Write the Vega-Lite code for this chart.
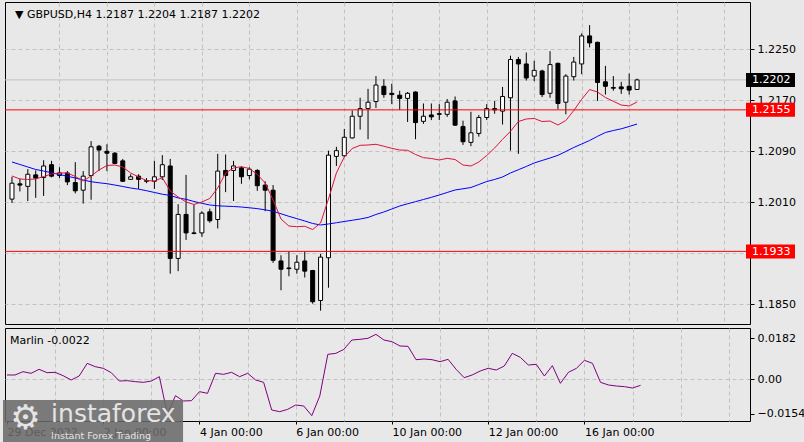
{
"$schema": "https://vega.github.io/schema/vega-lite/v6.json",
"background": "#e8e8e8",
"padding": {"left": 2, "top": 1, "right": 0, "bottom": 0},
"spacing": 2,
"config": {
  "view": {"fill": "#e8e8e8", "stroke": "#000000", "strokeWidth": 1},
  "font": "DejaVu Sans",
  "axis": {"labelFont": "DejaVu Sans", "labelFontSize": 11, "labelColor": "#000000", "domain": false, "tickColor": "#000000", "gridColor": "#c2c2c2", "gridDash": [4, 3], "gridWidth": 1, "title": null, "labelOverlap": false, "labelBound": false, "labelFlush": false}
},
"datasets": {
  "candles": [
    {"i":0,"o":1.2015,"h":1.2050,"l":1.2009,"c":1.2040},
    {"i":1,"o":1.2039,"h":1.2047,"l":1.2027,"c":1.2037},
    {"i":2,"o":1.2035,"h":1.2062,"l":1.2012,"c":1.2054},
    {"i":3,"o":1.2053,"h":1.2060,"l":1.2017,"c":1.2048},
    {"i":4,"o":1.2049,"h":1.2076,"l":1.2020,"c":1.2067},
    {"i":5,"o":1.2069,"h":1.2075,"l":1.2049,"c":1.2051},
    {"i":6,"o":1.2052,"h":1.2065,"l":1.2048,"c":1.2056},
    {"i":7,"o":1.2056,"h":1.2059,"l":1.2037,"c":1.2042},
    {"i":8,"o":1.2041,"h":1.2073,"l":1.2024,"c":1.2028},
    {"i":9,"o":1.2029,"h":1.2059,"l":1.2008,"c":1.2051},
    {"i":10,"o":1.2052,"h":1.2106,"l":1.2014,"c":1.2097},
    {"i":11,"o":1.2098,"h":1.2100,"l":1.2059,"c":1.2092},
    {"i":12,"o":1.2090,"h":1.2101,"l":1.2059,"c":1.2087},
    {"i":13,"o":1.2087,"h":1.2089,"l":1.2070,"c":1.2071},
    {"i":14,"o":1.2075,"h":1.2078,"l":1.2042,"c":1.2043},
    {"i":15,"o":1.2046,"h":1.2054,"l":1.2045,"c":1.2050},
    {"i":16,"o":1.2051,"h":1.2054,"l":1.2031,"c":1.2046},
    {"i":17,"o":1.2044,"h":1.2048,"l":1.2040,"c":1.2043},
    {"i":18,"o":1.2043,"h":1.2075,"l":1.2031,"c":1.2050},
    {"i":19,"o":1.2050,"h":1.2084,"l":1.2045,"c":1.2069},
    {"i":20,"o":1.2067,"h":1.2078,"l":1.1898,"c":1.1922},
    {"i":21,"o":1.1922,"h":1.2007,"l":1.1902,"c":1.1991},
    {"i":22,"o":1.1991,"h":1.2053,"l":1.1951,"c":1.1962},
    {"i":23,"o":1.1962,"h":1.2006,"l":1.1960,"c":1.1961},
    {"i":24,"o":1.1962,"h":1.1996,"l":1.1956,"c":1.1993},
    {"i":25,"o":1.1995,"h":1.2000,"l":1.1978,"c":1.1981},
    {"i":26,"o":1.1983,"h":1.2086,"l":1.1969,"c":1.2059},
    {"i":27,"o":1.2060,"h":1.2085,"l":1.2026,"c":1.2052},
    {"i":28,"o":1.2060,"h":1.2075,"l":1.2012,"c":1.2067},
    {"i":29,"o":1.2064,"h":1.2066,"l":1.2039,"c":1.2050},
    {"i":30,"o":1.2052,"h":1.2065,"l":1.2046,"c":1.2062},
    {"i":31,"o":1.2060,"h":1.2062,"l":1.2028,"c":1.2036},
    {"i":32,"o":1.2037,"h":1.2043,"l":1.1996,"c":1.2029},
    {"i":33,"o":1.2029,"h":1.2037,"l":1.1915,"c":1.1919},
    {"i":34,"o":1.1918,"h":1.1927,"l":1.1872,"c":1.1905},
    {"i":35,"o":1.1907,"h":1.1933,"l":1.1894,"c":1.1906},
    {"i":36,"o":1.1905,"h":1.1927,"l":1.1898,"c":1.1916},
    {"i":37,"o":1.1918,"h":1.1933,"l":1.1892,"c":1.1902},
    {"i":38,"o":1.1903,"h":1.1904,"l":1.1851,"c":1.1854},
    {"i":39,"o":1.1856,"h":1.1929,"l":1.1840,"c":1.1924},
    {"i":40,"o":1.1923,"h":1.2091,"l":1.1876,"c":1.2084},
    {"i":41,"o":1.2082,"h":1.2097,"l":1.2067,"c":1.2091},
    {"i":42,"o":1.2083,"h":1.2125,"l":1.2081,"c":1.2112},
    {"i":43,"o":1.2111,"h":1.2154,"l":1.2110,"c":1.2145},
    {"i":44,"o":1.2145,"h":1.2174,"l":1.2124,"c":1.2157},
    {"i":45,"o":1.2157,"h":1.2188,"l":1.2109,"c":1.2167},
    {"i":46,"o":1.2168,"h":1.2208,"l":1.2158,"c":1.2194},
    {"i":47,"o":1.2192,"h":1.2203,"l":1.2174,"c":1.2179},
    {"i":48,"o":1.2181,"h":1.2196,"l":1.2164,"c":1.2179},
    {"i":49,"o":1.2178,"h":1.2185,"l":1.2155,"c":1.2173},
    {"i":50,"o":1.2173,"h":1.2183,"l":1.2136,"c":1.2181},
    {"i":51,"o":1.2183,"h":1.2184,"l":1.2109,"c":1.2135},
    {"i":52,"o":1.2137,"h":1.2165,"l":1.2133,"c":1.2145},
    {"i":53,"o":1.2147,"h":1.2165,"l":1.2139,"c":1.2144},
    {"i":54,"o":1.2149,"h":1.2164,"l":1.2139,"c":1.2148},
    {"i":55,"o":1.2148,"h":1.2172,"l":1.2144,"c":1.2167},
    {"i":56,"o":1.2169,"h":1.2176,"l":1.2130,"c":1.2131},
    {"i":57,"o":1.2129,"h":1.2138,"l":1.2100,"c":1.2105},
    {"i":58,"o":1.2104,"h":1.2152,"l":1.2098,"c":1.2119},
    {"i":59,"o":1.2118,"h":1.2147,"l":1.2113,"c":1.2143},
    {"i":60,"o":1.2143,"h":1.2164,"l":1.2139,"c":1.2157},
    {"i":61,"o":1.2157,"h":1.2169,"l":1.2149,"c":1.2155},
    {"i":62,"o":1.2153,"h":1.2191,"l":1.2132,"c":1.2176},
    {"i":63,"o":1.2174,"h":1.2240,"l":1.2091,"c":1.2234},
    {"i":64,"o":1.2234,"h":1.2238,"l":1.2086,"c":1.2227},
    {"i":65,"o":1.2227,"h":1.2245,"l":1.2201,"c":1.2205},
    {"i":66,"o":1.2208,"h":1.2232,"l":1.2200,"c":1.2217},
    {"i":67,"o":1.2216,"h":1.2218,"l":1.2175,"c":1.2179},
    {"i":68,"o":1.2181,"h":1.2247,"l":1.2174,"c":1.2226},
    {"i":69,"o":1.2228,"h":1.2229,"l":1.2156,"c":1.2165},
    {"i":70,"o":1.2167,"h":1.2211,"l":1.2148,"c":1.2208},
    {"i":71,"o":1.2207,"h":1.2238,"l":1.2201,"c":1.2230},
    {"i":72,"o":1.2227,"h":1.2275,"l":1.2211,"c":1.2271},
    {"i":73,"o":1.2271,"h":1.2288,"l":1.2253,"c":1.2260},
    {"i":74,"o":1.2261,"h":1.2262,"l":1.2169,"c":1.2198},
    {"i":75,"o":1.2199,"h":1.2224,"l":1.2179,"c":1.2192},
    {"i":76,"o":1.2190,"h":1.2208,"l":1.2185,"c":1.2189},
    {"i":77,"o":1.2191,"h":1.2199,"l":1.2180,"c":1.2188},
    {"i":78,"o":1.2192,"h":1.2212,"l":1.2179,"c":1.2186},
    {"i":79,"o":1.2187,"h":1.2204,"l":1.2187,"c":1.2202}
  ],
  "ma": [
    {"i":0,"red":1.20513,"blue":1.20732},{"i":1,"red":1.20466,"blue":1.20693},{"i":2,"red":1.20458,"blue":1.20654},{"i":3,"red":1.20466,"blue":1.20615},
    {"i":4,"red":1.20505,"blue":1.20591},{"i":5,"red":1.20544,"blue":1.20564},{"i":6,"red":1.2056,"blue":1.20536},{"i":7,"red":1.2056,"blue":1.20509},
    {"i":8,"red":1.20505,"blue":1.20481},{"i":9,"red":1.20434,"blue":1.2045},{"i":10,"red":1.20513,"blue":1.20423},{"i":11,"red":1.20607,"blue":1.20406},
    {"i":12,"red":1.20677,"blue":1.20392},{"i":13,"red":1.20685,"blue":1.20371},{"i":14,"red":1.20654,"blue":1.20348},{"i":15,"red":1.2056,"blue":1.20324},
    {"i":16,"red":1.20497,"blue":1.20306},{"i":17,"red":1.20442,"blue":1.20282},{"i":18,"red":1.20434,"blue":1.20254},{"i":19,"red":1.20486,"blue":1.20227},
    {"i":20,"red":1.20277,"blue":1.20207},{"i":21,"red":1.20183,"blue":1.20168},{"i":22,"red":1.20105,"blue":1.20147},{"i":23,"red":1.20066,"blue":1.20113},
    {"i":24,"red":1.20105,"blue":1.20084},{"i":25,"red":1.2016,"blue":1.20058},{"i":26,"red":1.20324,"blue":1.20045},{"i":27,"red":1.2056,"blue":1.20039},
    {"i":28,"red":1.20638,"blue":1.20034},{"i":29,"red":1.20659,"blue":1.20026},{"i":30,"red":1.2063,"blue":1.20014},{"i":31,"red":1.20536,"blue":1.20001},
    {"i":32,"red":1.20403,"blue":1.19982},{"i":33,"red":1.20136,"blue":1.19959},{"i":34,"red":1.19838,"blue":1.1992},{"i":35,"red":1.19728,"blue":1.1988},
    {"i":36,"red":1.19717,"blue":1.19844},{"i":37,"red":1.19724,"blue":1.19807},{"i":38,"red":1.19673,"blue":1.19768},{"i":39,"red":1.19775,"blue":1.19744},
    {"i":40,"red":1.20152,"blue":1.1976},{"i":41,"red":1.2056,"blue":1.19779},{"i":42,"red":1.20811,"blue":1.19799},{"i":43,"red":1.20944,"blue":1.19818},
    {"i":44,"red":1.20994,"blue":1.19838},{"i":45,"red":1.20999,"blue":1.19862},{"i":46,"red":1.2101,"blue":1.19909},{"i":47,"red":1.20979,"blue":1.19948},
    {"i":48,"red":1.20947,"blue":1.19995},{"i":49,"red":1.2092,"blue":1.20042},{"i":50,"red":1.20916,"blue":1.20077},{"i":51,"red":1.2085,"blue":1.2011},
    {"i":52,"red":1.208,"blue":1.20144},{"i":53,"red":1.20787,"blue":1.20178},{"i":54,"red":1.20764,"blue":1.20215},{"i":55,"red":1.2079,"blue":1.20254},
    {"i":56,"red":1.20771,"blue":1.20293},{"i":57,"red":1.20685,"blue":1.20312},{"i":58,"red":1.20669,"blue":1.20332},{"i":59,"red":1.20732,"blue":1.20379},
    {"i":60,"red":1.20834,"blue":1.20426},{"i":61,"red":1.20952,"blue":1.20458},{"i":62,"red":1.21088,"blue":1.20497},{"i":63,"red":1.21214,"blue":1.2056},
    {"i":64,"red":1.21367,"blue":1.20611},{"i":65,"red":1.21407,"blue":1.20662},{"i":66,"red":1.21415,"blue":1.20717},{"i":67,"red":1.21367,"blue":1.20756},
    {"i":68,"red":1.21375,"blue":1.20795},{"i":69,"red":1.21313,"blue":1.20837},{"i":70,"red":1.21383,"blue":1.20897},{"i":71,"red":1.2154,"blue":1.2096},
    {"i":72,"red":1.21716,"blue":1.21015},{"i":73,"red":1.21869,"blue":1.21069},{"i":74,"red":1.2183,"blue":1.21135},{"i":75,"red":1.21744,"blue":1.21195},
    {"i":76,"red":1.21684,"blue":1.21226},{"i":77,"red":1.21626,"blue":1.21253},{"i":78,"red":1.21611,"blue":1.21289},{"i":79,"red":1.21673,"blue":1.21328}
  ],
  "marlin": [
    {"i":0,"v":0.00178},{"i":1,"v":0.00178},{"i":2,"v":0.00325},{"i":3,"v":0.00252},{"i":4,"v":0.00429},{"i":5,"v":0.00281},
    {"i":6,"v":0.00296},{"i":7,"v":0.00148},{"i":8,"v":-0.00044},{"i":9,"v":0.00133},{"i":10,"v":0.00695},{"i":11,"v":0.00547},
    {"i":12,"v":0.00474},{"i":13,"v":0.00281},{"i":14,"v":-0.00089},{"i":15,"v":-0.00074},{"i":16,"v":-0.00118},{"i":17,"v":-0.00148},
    {"i":18,"v":-0.00089},{"i":19,"v":0.00103},{"i":20,"v":-0.01568},{"i":21,"v":-0.0074},{"i":22,"v":-0.00976},{"i":23,"v":-0.00962},
    {"i":24,"v":-0.00562},{"i":25,"v":-0.00636},{"i":26,"v":0.00252},{"i":27,"v":0.00207},{"i":28,"v":0.00296},{"i":29,"v":0.00103},
    {"i":30,"v":0.00252},{"i":31,"v":-0.00044},{"i":32,"v":-0.00148},{"i":33,"v":-0.01376},{"i":34,"v":-0.0145},{"i":35,"v":-0.01346},
    {"i":36,"v":-0.01154},{"i":37,"v":-0.01198},{"i":38,"v":-0.01628},{"i":39,"v":-0.00755},{"i":40,"v":0.01095},{"i":41,"v":0.01139},
    {"i":42,"v":0.01317},{"i":43,"v":0.01731},{"i":44,"v":0.01761},{"i":45,"v":0.01805},{"i":46,"v":0.01983},{"i":47,"v":0.01731},
    {"i":48,"v":0.01657},{"i":49,"v":0.01465},{"i":50,"v":0.0145},{"i":51,"v":0.00858},{"i":52,"v":0.00888},{"i":53,"v":0.00858},
    {"i":54,"v":0.00769},{"i":55,"v":0.00873},{"i":56,"v":0.00429},{"i":57,"v":0.00059},{"i":58,"v":0.00178},{"i":59,"v":0.00355},
    {"i":60,"v":0.00474},{"i":61,"v":0.004},{"i":62,"v":0.00577},{"i":63,"v":0.01139},{"i":64,"v":0.00962},{"i":65,"v":0.00621},
    {"i":66,"v":0.00651},{"i":67,"v":0.00133},{"i":68,"v":0.00592},{"i":69,"v":-0.00192},{"i":70,"v":0.00296},{"i":71,"v":0.00474},
    {"i":72,"v":0.00829},{"i":73,"v":0.00695},{"i":74,"v":-0.00148},{"i":75,"v":-0.00266},{"i":76,"v":-0.00311},{"i":77,"v":-0.0034},
    {"i":78,"v":-0.004},{"i":79,"v":-0.00281}
  ],
  "bid": [{"level": 1.2202}],
  "hlines": [{"level": 1.2155}, {"level": 1.1933}],
  "tags": [
    {"level": 1.2202, "label": "1.2202", "kind": "bid"},
    {"level": 1.2155, "label": "1.2155", "kind": "line"},
    {"level": 1.1933, "label": "1.1933", "kind": "line"}
  ],
  "mainhead": [{"text": "▼  GBPUSD,H4  1.2187 1.2204 1.2187 1.2202"}],
  "subhead": [{"text": "Marlin -0.0022"}],
  "brand": [{"name": "instaforex", "tagline": "Instant Forex Trading", "icon": "⚙"}]
},
"vconcat": [
  {
    "width": 745,
    "height": 322,
    "layer": [
      {
        "data": {"name": "bid"},
        "mark": {"type": "rule", "color": "#c0c0c0", "strokeWidth": 1},
        "encoding": {
          "y": {"field": "level", "type": "quantitative", "scale": {"domain": [1.18191, 1.23242], "nice": false, "zero": false},
                "axis": {"orient": "right", "values": [1.225, 1.217, 1.209, 1.201, 1.193, 1.185], "format": ".4f",
                         "labelExpr": "abs(datum.value - 1.193) < 0.0001 ? '' : datum.label",
                         "grid": true, "tickSize": 4, "labelPadding": 3}}
        }
      },
      {
        "data": {"name": "candles"},
        "mark": {"type": "rule", "color": "#000000", "strokeWidth": 1, "clip": true},
        "encoding": {
          "x": {"field": "i", "type": "quantitative", "scale": {"domain": [-0.25, 92.64], "nice": false, "zero": false},
                "axis": {"values": [6,12,18,24,30,36,42,48,54,60,66,72,78,84,90], "labels": false, "ticks": false, "grid": true}},
          "y": {"field": "l", "type": "quantitative"},
          "y2": {"field": "h"}
        }
      },
      {
        "data": {"name": "candles"},
        "mark": {"type": "bar", "width": 4, "stroke": "#000000", "strokeWidth": 1, "clip": true},
        "encoding": {
          "x": {"field": "i", "type": "quantitative"},
          "y": {"field": "o", "type": "quantitative"},
          "y2": {"field": "c"},
          "fill": {"condition": {"test": "datum.c > datum.o", "value": "#ffffff"}, "value": "#000000"}
        }
      },
      {
        "data": {"name": "ma"},
        "mark": {"type": "line", "color": "#0000ff", "strokeWidth": 1, "clip": true},
        "encoding": {
          "x": {"field": "i", "type": "quantitative"},
          "y": {"field": "blue", "type": "quantitative"}
        }
      },
      {
        "data": {"name": "ma"},
        "mark": {"type": "line", "color": "#dc143c", "strokeWidth": 1, "clip": true},
        "encoding": {
          "x": {"field": "i", "type": "quantitative"},
          "y": {"field": "red", "type": "quantitative"}
        }
      },
      {
        "data": {"name": "hlines"},
        "mark": {"type": "rule", "color": "#ff0000", "strokeWidth": 1},
        "encoding": {"y": {"field": "level", "type": "quantitative"}}
      },
      {
        "data": {"name": "tags"},
        "mark": {"type": "rect", "clip": false, "xOffset": 1, "x2Offset": 50, "yOffset": -7, "y2Offset": 7},
        "encoding": {
          "x": {"datum": 92.64, "type": "quantitative"},
          "x2": {"datum": 92.64},
          "y": {"field": "level", "type": "quantitative"},
          "y2": {"field": "level"},
          "fill": {"field": "kind", "type": "nominal", "scale": {"domain": ["bid", "line"], "range": ["#000000", "#ff0000"]}, "legend": null}
        }
      },
      {
        "data": {"name": "tags"},
        "mark": {"type": "text", "clip": false, "align": "left", "baseline": "middle", "dx": 7, "dy": 0.5, "fontSize": 11, "color": "#ffffff", "font": "DejaVu Sans"},
        "encoding": {
          "x": {"datum": 92.64, "type": "quantitative"},
          "y": {"field": "level", "type": "quantitative"},
          "text": {"field": "label"}
        }
      },
      {
        "data": {"name": "mainhead"},
        "mark": {"type": "text", "align": "left", "baseline": "alphabetic", "dx": 5, "dy": 16, "fontSize": 11, "color": "#000000", "font": "DejaVu Sans"},
        "encoding": {
          "x": {"datum": -0.25, "type": "quantitative"},
          "y": {"datum": 1.23242, "type": "quantitative"},
          "text": {"field": "text"}
        }
      }
    ]
  },
  {
    "width": 745,
    "height": 93,
    "layer": [
      {
        "data": {"name": "marlin"},
        "mark": {"type": "line", "color": "#800080", "strokeWidth": 1, "clip": true},
        "encoding": {
          "x": {"field": "i", "type": "quantitative", "scale": {"domain": [-0.25, 92.64], "nice": false, "zero": false},
                "axis": {"values": [0,6,12,18,24,30,36,42,48,54,60,66,72,78,84,90],
                         "labelExpr": "datum.value == 0 ? '29 Dec 2022' : datum.value == 12 ? '2 Jan 00:00' : datum.value == 24 ? '4 Jan 00:00' : datum.value == 36 ? '6 Jan 00:00' : datum.value == 48 ? '10 Jan 00:00' : datum.value == 60 ? '12 Jan 00:00' : datum.value == 72 ? '16 Jan 00:00' : ''",
                         "labelAlign": "left", "labelBaseline": "top", "labelPadding": 2, "tickSize": 3,
                         "grid": true,
                         "gridOpacity": {"condition": {"test": "datum.value == 0", "value": 0}, "value": 1},
                         "tickOpacity": {"condition": {"test": "datum.value % 12 == 0 && datum.value <= 72", "value": 1}, "value": 0}}},
          "y": {"field": "v", "type": "quantitative", "scale": {"domain": [-0.01864, 0.02264], "nice": false, "zero": false},
                "axis": {"orient": "right", "values": [0.0182, 0, -0.0154],
                         "labelExpr": "datum.value == 0 ? '0.00' : format(datum.value, '.4f')",
                         "grid": true, "tickSize": 4, "labelPadding": 3,
                         "gridOpacity": {"condition": {"test": "datum.value == 0", "value": 1}, "value": 0}}}
        }
      },
      {
        "data": {"name": "subhead"},
        "mark": {"type": "text", "align": "left", "baseline": "alphabetic", "dx": 5, "dy": 16, "fontSize": 11, "color": "#000000", "font": "DejaVu Sans"},
        "encoding": {
          "x": {"datum": -0.25, "type": "quantitative"},
          "y": {"datum": 0.02264, "type": "quantitative"},
          "text": {"field": "text"}
        }
      },
      {
        "data": {"name": "brand"},
        "mark": {"type": "rect", "clip": false, "fill": "#6a6a6a", "opacity": 0.88},
        "encoding": {
          "x": {"datum": -0.5, "type": "quantitative"},
          "x2": {"datum": 21.95},
          "y": {"datum": -0.00932, "type": "quantitative"},
          "y2": {"datum": -0.0293}
        }
      },
      {
        "data": {"name": "brand"},
        "mark": {"type": "text", "clip": false, "align": "center", "baseline": "middle", "fontSize": 34, "color": "#e4e4e4"},
        "encoding": {
          "x": {"datum": 2.3, "type": "quantitative"},
          "y": {"datum": -0.0178, "type": "quantitative"},
          "text": {"field": "icon"}
        }
      },
      {
        "data": {"name": "brand"},
        "mark": {"type": "text", "clip": false, "align": "left", "baseline": "alphabetic", "fontSize": 25, "color": "#e4e4e4", "font": "DejaVu Sans"},
        "encoding": {
          "x": {"datum": 5.5, "type": "quantitative"},
          "y": {"datum": -0.0191, "type": "quantitative"},
          "text": {"field": "name"}
        }
      },
      {
        "data": {"name": "brand"},
        "mark": {"type": "text", "clip": false, "align": "left", "baseline": "alphabetic", "fontSize": 9.5, "color": "#e4e4e4", "font": "DejaVu Sans"},
        "encoding": {
          "x": {"datum": 5.5, "type": "quantitative"},
          "y": {"datum": -0.0266, "type": "quantitative"},
          "text": {"field": "tagline"}
        }
      }
    ]
  }
]
}
